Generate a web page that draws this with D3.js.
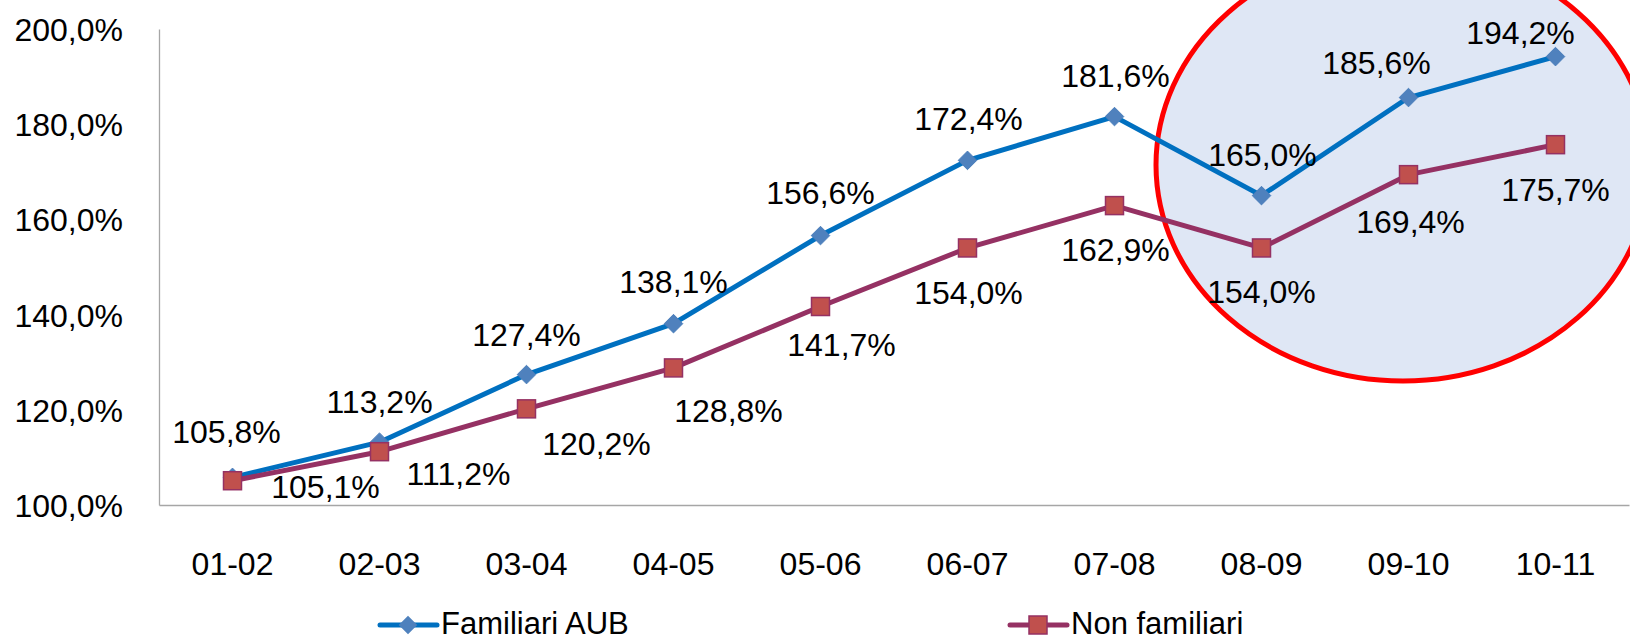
<!DOCTYPE html>
<html>
<head>
<meta charset="utf-8">
<script src="https://cdn.jsdelivr.net/npm/d3@7"></script>
<style>
  html, body { margin: 0; padding: 0; background: #fff; }
  svg { display: block; }
  text { font-family: "Liberation Sans", Arial, sans-serif; fill: #000; }
</style>
</head>
<body>
<svg id="chart" width="1630" height="641"></svg>
<script>
// ---- data ----
const categories = ["01-02","02-03","03-04","04-05","05-06","06-07","07-08","08-09","09-10","10-11"];
const familiariAUB = [1.058, 1.132, 1.274, 1.381, 1.566, 1.724, 1.816, 1.650, 1.856, 1.942];
const nonFamiliari = [1.051, 1.112, 1.202, 1.288, 1.417, 1.540, 1.629, 1.540, 1.694, 1.757];
const yTicks = [1.0, 1.2, 1.4, 1.6, 1.8, 2.0];
const seriesNames = ["Familiari AUB", "Non familiari"];

// ---- layout (label offsets from each point, in px) ----
const labelOffsetA = [[-6,-46],[0,-41],[0,-40],[0,-42],[0,-43],[1,-42],[1,-41],[1,-41],[-32,-35],[-35,-24]];
const labelOffsetB = [[93,6],[79,22],[70,35],[55,43],[21,38],[1,45],[1,44],[0,44],[2,47],[0,45]];

const W = 1630, H = 641;
const FS = 32;
const svg = d3.select("#chart");

const x = d3.scaleBand().domain(categories).range([159, 1629]);
const y = d3.scaleLinear().domain([1.0, 2.0]).range([505, 29]);
const cx = c => x(c) + x.bandwidth() / 2;

const it = d3.formatLocale({decimal: ",", thousands: ".", grouping: [3], currency: ["", "€"], percent: "%"});
const fmt = it.format(".1%");

// highlight ellipse
svg.append("ellipse")
  .attr("cx", 1403).attr("cy", 165).attr("rx", 247).attr("ry", 216)
  .attr("fill", "#dfe7f5").attr("stroke", "#ff0000").attr("stroke-width", 5);

// axes
const yAxis = svg.append("g").attr("transform", "translate(159,0)")
  .call(d3.axisLeft(y).tickValues(yTicks).tickSize(0).tickPadding(36).tickFormat(fmt));
yAxis.select(".domain").attr("stroke", "#a6a6a6").attr("stroke-width", 1.3);
yAxis.selectAll("text").attr("font-size", FS).attr("dy", "0.36em")
  .style("font-family", '"Liberation Sans", Arial, sans-serif');

const xAxis = svg.append("g").attr("transform", "translate(0,505)")
  .call(d3.axisBottom(x).tickSize(0).tickPadding(0));
xAxis.select(".domain").attr("stroke", "#a6a6a6").attr("stroke-width", 1.3);
xAxis.selectAll("text").attr("font-size", FS).attr("y", 58).attr("dy", "0.36em")
  .style("font-family", '"Liberation Sans", Arial, sans-serif');

const line = d3.line().x((d, i) => cx(categories[i])).y(d => y(d));

// series A (blue, diamonds)
svg.append("path").datum(familiariAUB).attr("d", line)
  .attr("fill", "none").attr("stroke", "#0070c0").attr("stroke-width", 5).attr("stroke-linejoin", "round");
const diamond = d3.symbol().type(d3.symbolDiamond2).size(220);
svg.append("g").selectAll("path").data(familiariAUB).join("path")
  .attr("d", diamond)
  .attr("transform", (d, i) => `translate(${cx(categories[i])},${y(d)})`)
  .attr("fill", "#4f81bd").attr("stroke", "#4a7ebb").attr("stroke-width", 1);

// series B (purple line, red squares)
svg.append("path").datum(nonFamiliari).attr("d", line)
  .attr("fill", "none").attr("stroke", "#953163").attr("stroke-width", 5).attr("stroke-linejoin", "round");
svg.append("g").selectAll("rect").data(nonFamiliari).join("rect")
  .attr("x", (d, i) => cx(categories[i]) - 9).attr("y", d => y(d) - 9)
  .attr("width", 18).attr("height", 18)
  .attr("fill", "#c0504d").attr("stroke", "#953163").attr("stroke-width", 1.5);

// data labels
svg.append("g").selectAll("text").data(familiariAUB).join("text")
  .attr("x", (d, i) => cx(categories[i]) + labelOffsetA[i][0])
  .attr("y", (d, i) => y(d) + labelOffsetA[i][1])
  .attr("dy", "0.36em").attr("text-anchor", "middle").attr("font-size", FS)
  .text(d => fmt(d));
svg.append("g").selectAll("text").data(nonFamiliari).join("text")
  .attr("x", (d, i) => cx(categories[i]) + labelOffsetB[i][0])
  .attr("y", (d, i) => y(d) + labelOffsetB[i][1])
  .attr("dy", "0.36em").attr("text-anchor", "middle").attr("font-size", FS)
  .text(d => fmt(d));

// legend
const legend = [
  {name: seriesNames[0], x0: 380, color: "#0070c0", mk: "diamond"},
  {name: seriesNames[1], x0: 1010, color: "#953163", mk: "square"}
];
const ly = 625;
legend.forEach(l => {
  const g = svg.append("g");
  g.append("line").attr("x1", l.x0).attr("x2", l.x0 + 57).attr("y1", ly).attr("y2", ly)
    .attr("stroke", l.color).attr("stroke-width", 5).attr("stroke-linecap", "round");
  if (l.mk === "diamond") {
    g.append("path").attr("d", diamond).attr("transform", `translate(${l.x0 + 28},${ly})`)
      .attr("fill", "#4f81bd");
  } else {
    g.append("rect").attr("x", l.x0 + 28 - 9).attr("y", ly - 9).attr("width", 18).attr("height", 18)
      .attr("fill", "#c0504d").attr("stroke", "#953163").attr("stroke-width", 1.5);
  }
  g.append("text").attr("x", l.x0 + 61).attr("y", 634)
    .attr("font-size", 31).text(l.name);
});
</script>
</body>
</html>
